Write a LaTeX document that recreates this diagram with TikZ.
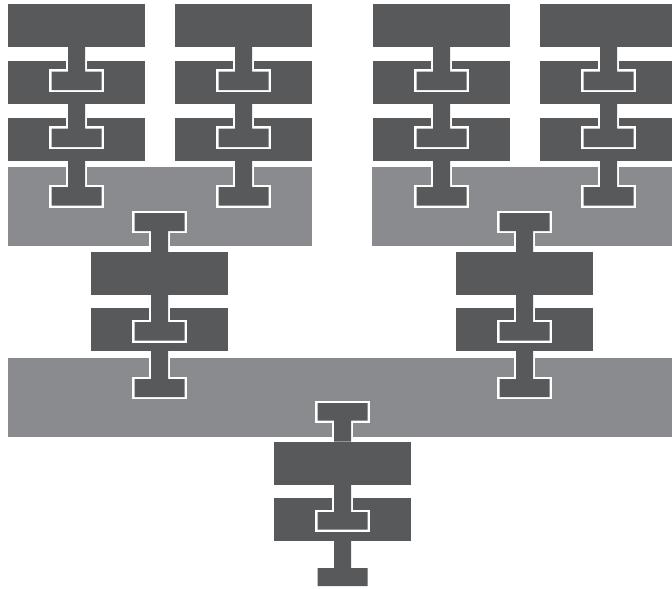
\documentclass[tikz,border=0pt]{standalone}
\usetikzlibrary{calc}

\definecolor{slate}{RGB}{88,89,91}
\definecolor{ash}{RGB}{138,139,142}

% half widths of a tenon's stem and foot
\newcommand\stemhw{8.5}
\newcommand\foothw{25}

\tikzset{
  brick/.style={rectangle, fill=slate, draw=none, inner sep=0pt, outer sep=0pt,
                minimum width=137pt, minimum height=43pt},
  slab/.style={rectangle, fill=ash, draw=none, inner sep=0pt, outer sep=0pt,
               minimum height=79pt},
  rim/.style={draw=white, line width=4.6pt, line join=miter, line cap=butt},
  core/.style={fill=slate},
}

% #1: root of the stem (edge of the block it grows from)
% #2: top edge of the block holding the foot
% #3, #4: near and far edge of the foot, measured down from #2
\newcommand\tenon[4]{%
  \coordinate (tr) at (#1);
  \coordinate (th) at (#1 |- #2);
  \coordinate (p1) at ($(tr)+(-\stemhw,0)$);
  \coordinate (p2) at ($(th)+(-\stemhw,#3)$);
  \coordinate (p3) at ($(th)+(-\foothw,#3)$);
  \coordinate (p4) at ($(th)+(-\foothw,#4)$);
  \coordinate (p5) at ($(th)+(\foothw,#4)$);
  \coordinate (p6) at ($(th)+(\foothw,#3)$);
  \coordinate (p7) at ($(th)+(\stemhw,#3)$);
  \coordinate (p8) at ($(tr)+(\stemhw,0)$);
  \draw[rim] (p1) -- (p2) -- (p3) -- (p4) -- (p5) -- (p6) -- (p7) -- (p8);
  \fill[core] (p1) -- (p2) -- (p3) -- (p4) -- (p5) -- (p6) -- (p7) -- (p8) -- cycle;
}

\begin{document}
\begin{tikzpicture}[x=1pt,y=-1pt]
\useasboundingbox (0,0) rectangle (672,589);
\clip (0,0) rectangle (672,589);
\fill[white] (0,0) rectangle (672,589);

% four top columns of three bricks
\foreach \c/\x in {A/76.5, B/243.5, C/441.5, D/608.5} {
  \node[brick] (\c1) at (\x,25) {};
  \node[brick] (\c2) at (\x,82) {};
  \node[brick] (\c3) at (\x,139) {};
}
% two light slabs joining them in pairs
\node[slab, minimum width=304pt] (L) at (160,206.5) {};
\node[slab, minimum width=328pt] (R) at (536,206.5) {};
% two middle columns
\foreach \c/\x in {E/159.5, F/524.5} {
  \node[brick] (\c1) at (\x,273.5) {};
  \node[brick] (\c2) at (\x,329.5) {};
}
% wide slab and bottom column
\node[slab, minimum width=692pt] (M) at (354,397.5) {};
\node[brick] (G1) at (342.5,463) {};
\node[brick] (G2) at (342.5,519) {};

% tenons inside the top columns
\foreach \c in {A,B,C,D} {
  \tenon{\c1.south}{\c2.north}{11}{29.5}
  \tenon{\c2.south}{\c3.north}{11}{29.5}
}
\tenon{A3.south}{L.north}{20}{38.5}
\tenon{B3.south}{L.north}{20}{38.5}
\tenon{C3.south}{R.north}{20}{38.5}
\tenon{D3.south}{R.north}{20}{38.5}

% light slabs down to the middle columns
\tenon{E1.north}{L.north}{64}{46}
\tenon{F1.north}{R.north}{64}{46}
\tenon{E1.south}{E2.north}{14}{32.5}
\tenon{F1.south}{F2.north}{14}{32.5}
\tenon{E2.south}{M.north}{21}{39}
\tenon{F2.south}{M.north}{21}{39}

% wide slab down to the bottom column
\tenon{G1.north}{M.north}{62.5}{45}
\tenon{G1.south}{G2.north}{14.5}{32}
\tenon{G2.south}{G2.north}{70.5}{88.5}
\end{tikzpicture}
\end{document}
